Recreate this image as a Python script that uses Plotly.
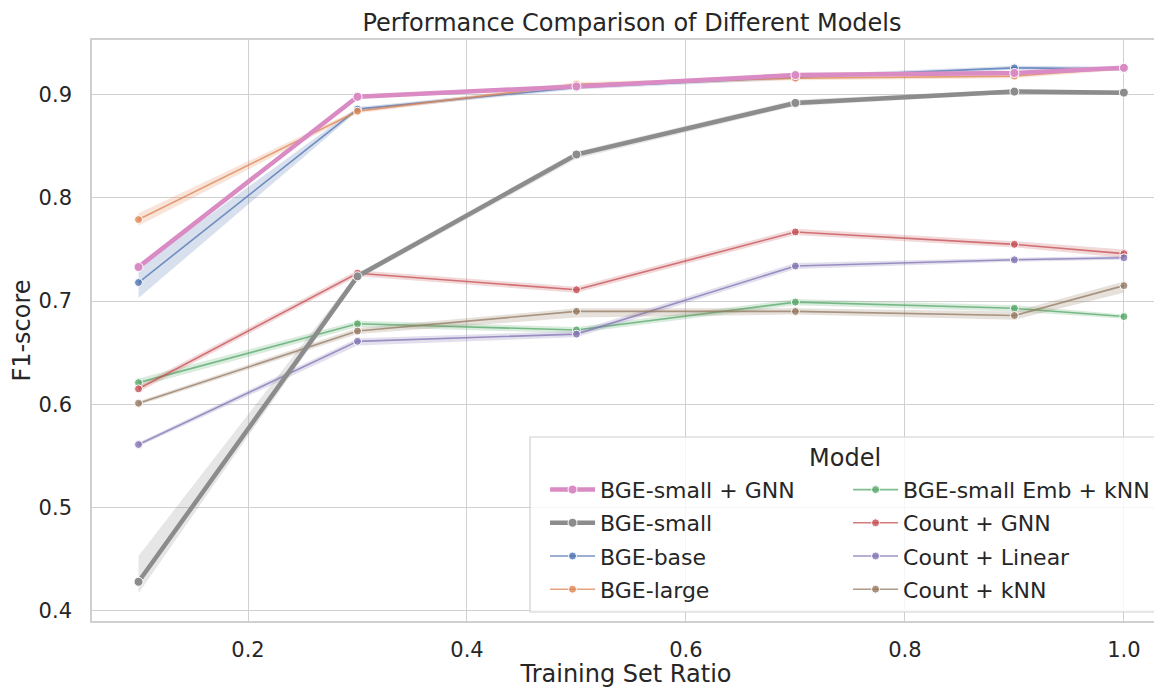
import plotly.graph_objects as go

ratios = [0.1, 0.3, 0.5, 0.7, 0.9, 1.0]

models = ["BGE-small + GNN", "BGE-small", "BGE-base", "BGE-large",
          "BGE-small Emb + kNN", "Count + GNN", "Count + Linear", "Count + kNN"]

colors = {
    "BGE-small + GNN": "#da8bc3",
    "BGE-small": "#8c8c8c",
    "BGE-base": "#4c72b0",
    "BGE-large": "#dd8452",
    "BGE-small Emb + kNN": "#55a868",
    "Count + GNN": "#c44e52",
    "Count + Linear": "#8172b3",
    "Count + kNN": "#937860",
}

mean = {
    "BGE-small + GNN":     [0.733, 0.898, 0.908, 0.919, 0.921, 0.926],
    "BGE-small":           [0.428, 0.724, 0.842, 0.892, 0.903, 0.902],
    "BGE-base":            [0.718, 0.886, 0.907, 0.917, 0.926, 0.925],
    "BGE-large":           [0.779, 0.884, 0.910, 0.916, 0.918, 0.926],
    "BGE-small Emb + kNN": [0.621, 0.678, 0.672, 0.699, 0.693, 0.685],
    "Count + GNN":         [0.615, 0.727, 0.711, 0.767, 0.755, 0.746],
    "Count + Linear":      [0.561, 0.661, 0.668, 0.734, 0.740, 0.742],
    "Count + kNN":         [0.601, 0.671, 0.690, 0.690, 0.686, 0.715],
}

lower = {
    "BGE-small + GNN":     [0.730, 0.896, 0.906, 0.917, 0.919, 0.924],
    "BGE-small":           [0.417, 0.721, 0.838, 0.889, 0.901, 0.900],
    "BGE-base":            [0.703, 0.884, 0.905, 0.915, 0.924, 0.923],
    "BGE-large":           [0.773, 0.882, 0.908, 0.914, 0.916, 0.924],
    "BGE-small Emb + kNN": [0.617, 0.675, 0.669, 0.696, 0.690, 0.683],
    "Count + GNN":         [0.612, 0.724, 0.708, 0.764, 0.752, 0.742],
    "Count + Linear":      [0.559, 0.657, 0.665, 0.731, 0.738, 0.740],
    "Count + kNN":         [0.599, 0.668, 0.684, 0.687, 0.682, 0.708],
}

upper = {
    "BGE-small + GNN":     [0.736, 0.900, 0.910, 0.921, 0.923, 0.928],
    "BGE-small":           [0.453, 0.727, 0.845, 0.895, 0.905, 0.904],
    "BGE-base":            [0.733, 0.888, 0.909, 0.919, 0.928, 0.927],
    "BGE-large":           [0.785, 0.886, 0.912, 0.918, 0.920, 0.928],
    "BGE-small Emb + kNN": [0.625, 0.681, 0.675, 0.702, 0.696, 0.687],
    "Count + GNN":         [0.618, 0.730, 0.714, 0.770, 0.758, 0.750],
    "Count + Linear":      [0.563, 0.664, 0.671, 0.737, 0.742, 0.744],
    "Count + kNN":         [0.603, 0.674, 0.693, 0.693, 0.690, 0.719],
}

thick = {"BGE-small + GNN", "BGE-small"}
legend_col1 = models[:4]


def rgba(hexc, a):
    h = hexc.lstrip("#")
    r, g, b = int(h[0:2], 16), int(h[2:4], 16), int(h[4:6], 16)
    return f"rgba({r},{g},{b},{a})"


fig = go.Figure()

draw_order = [m for m in models if m not in thick] + ["BGE-small", "BGE-small + GNN"]

for m in draw_order:
    c = colors[m]
    fig.add_trace(go.Scatter(
        x=ratios + ratios[::-1],
        y=upper[m] + lower[m][::-1],
        fill="toself",
        fillcolor=rgba(c, 0.22),
        line=dict(width=0),
        mode="lines",
        hoverinfo="skip",
        showlegend=False,
    ))
    is_thick = m in thick
    fig.add_trace(go.Scatter(
        x=ratios, y=mean[m],
        mode="lines+markers",
        name=m,
        legend="legend" if m in legend_col1 else "legend2",
        legendgroup=m,
        legendrank=models.index(m),
        line=dict(color=rgba(c, 1.0 if is_thick else 0.75), width=4.5 if is_thick else 1.6),
        marker=dict(size=9 if is_thick else 8, color=rgba(c, 1.0 if is_thick else 0.8),
                    line=dict(color="white", width=1)),
    ))

grid_c = "#d0d0d0"
leg_common = dict(
    orientation="v", xanchor="left", yanchor="top", y=0.262,
    bgcolor="rgba(0,0,0,0)", borderwidth=0,
    font=dict(size=22), itemwidth=45, tracegroupgap=1.6,
)

fig.update_layout(
    width=1154, height=680,
    paper_bgcolor="white", plot_bgcolor="white",
    margin=dict(l=84, r=2, t=32, b=67, autoexpand=False),
    font=dict(family="DejaVu Sans", size=22, color="#262626"),
    title=dict(text="Performance Comparison of Different Models", x=0.5407, xref="container",
               xanchor="center", y=0.979, yanchor="middle", font=dict(size=24, color="#262626")),
    xaxis=dict(
        title=dict(text="Training Set Ratio", font=dict(size=24), standoff=12),
        automargin=True,
        range=[0.0575, 1.033], tickvals=[0.2, 0.4, 0.6, 0.8, 1.0], ticktext=["0.2", "0.4", "0.6", "0.8", "1.0"],
        showgrid=True, gridcolor=grid_c, gridwidth=1.3,
        showline=True, linecolor=grid_c, linewidth=1.6, mirror=True,
        ticks="", zeroline=False, tickfont=dict(size=21), ticklabelstandoff=9,
    ),
    yaxis=dict(
        title=dict(text="F1-score", font=dict(size=24), standoff=8),
        range=[0.390, 0.953], tickvals=[0.4, 0.5, 0.6, 0.7, 0.8, 0.9], ticktext=["0.4", "0.5", "0.6", "0.7", "0.8", "0.9"],
        showgrid=True, gridcolor=grid_c, gridwidth=1.3,
        showline=True, linecolor=grid_c, linewidth=1.6, mirror=True,
        ticks="", zeroline=False, tickfont=dict(size=21), ticklabelstandoff=14,
    ),
    legend=dict(x=0.4242, **leg_common),
    legend2=dict(x=0.7079, **leg_common),
    shapes=[dict(
        type="rect", xref="paper", yref="paper", x0=0.4101, x1=1.0, y0=0.0155, y1=0.3167,
        fillcolor="rgba(255,255,255,0.8)", line=dict(color=grid_c, width=1.2), layer="above",
    )],
    annotations=[dict(
        text="Model", xref="paper", yref="paper", x=0.7051, y=0.281,
        xanchor="center", yanchor="middle", showarrow=False, font=dict(size=24, color="#262626"),
    )],
    showlegend=True,
)

fig.write_html("out.html")
